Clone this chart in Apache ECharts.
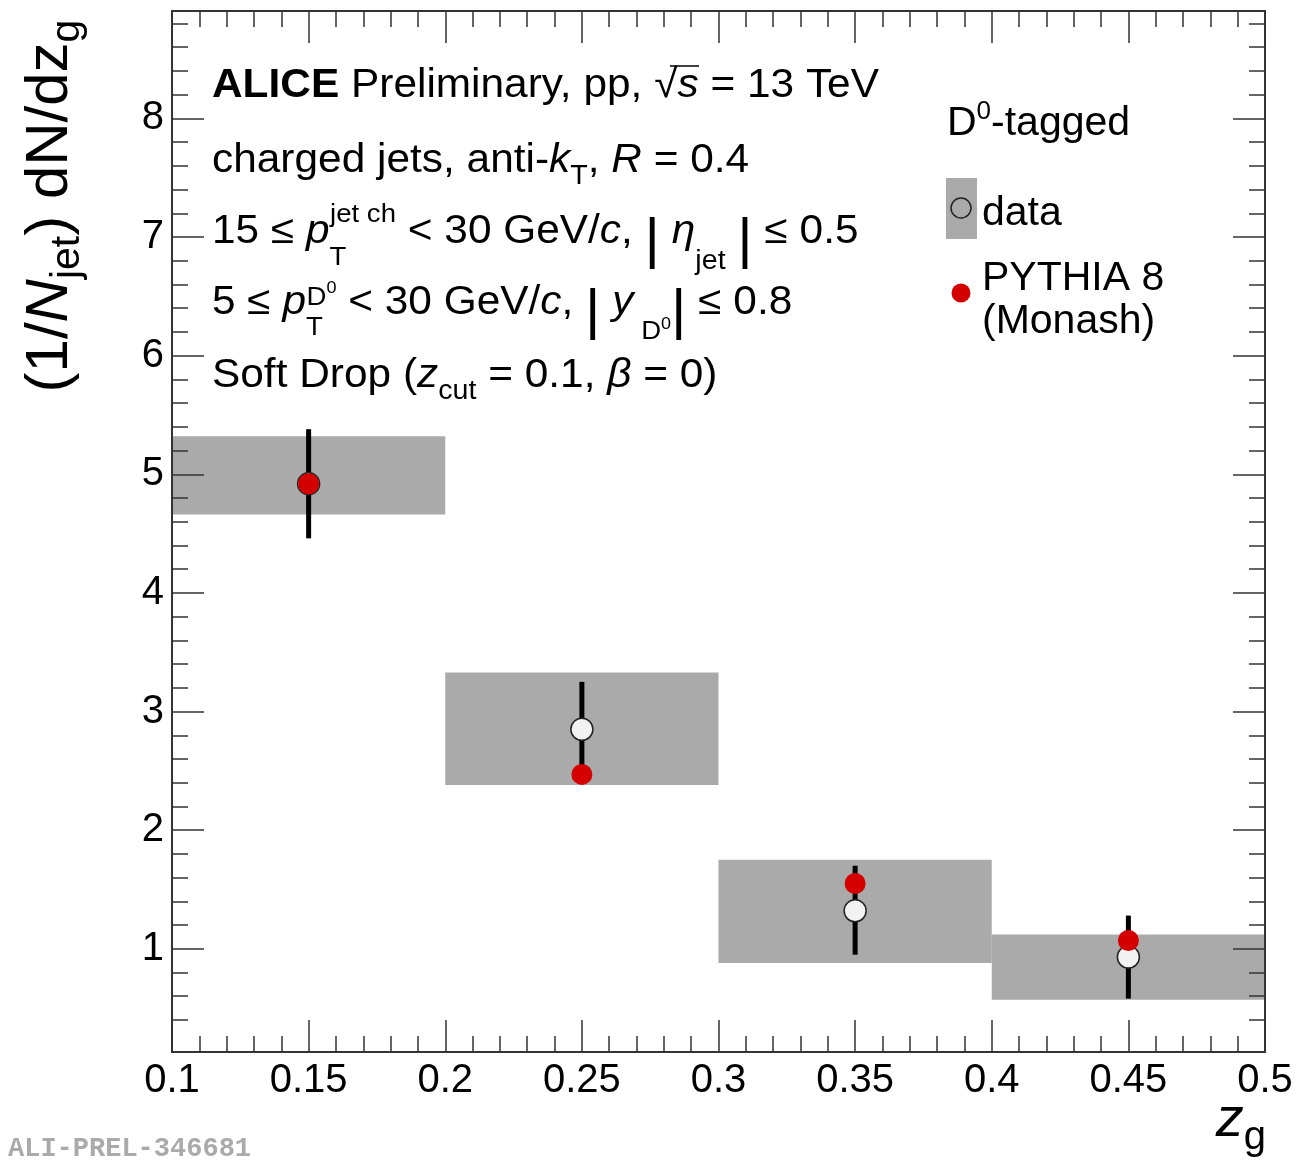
<!DOCTYPE html>
<html><head><meta charset="utf-8">
<script src="https://cdn.jsdelivr.net/npm/echarts@6.0.0/dist/echarts.min.js"></script>
<style>html,body{margin:0;padding:0;background:#fff}#c{width:1299px;height:1161px}</style>
</head><body><div id="c"></div>
<script>
// ---- data ----
const binLow    = [0.1, 0.2, 0.3, 0.4];
const binHigh   = [0.2, 0.3, 0.4, 0.5];
const binCenter = [0.15, 0.25, 0.35, 0.45];
const dataVal   = [4.92, 2.85, 1.32, 0.93];
const statLow   = [4.46, 2.45, 0.95, 0.58];
const statHigh  = [5.38, 3.25, 1.70, 1.28];
const sysLow    = [4.66, 2.38, 0.88, 0.57];
const sysHigh   = [5.32, 3.33, 1.75, 1.12];
const pythiaVal = [4.92, 2.47, 1.55, 1.07];
const yMajorTicks = [1, 2, 3, 4, 5, 6, 7, 8];
const yMinorTicks = [];
for (let k = 2; k <= 44; k++) { if (k % 5) yMinorTicks.push(+(k * 0.2).toFixed(1)); }

const FONT = "'Liberation Sans', Arial, Helvetica, sans-serif";
const AX = '#333';

function xAx(pos, showLabel) {
  return {
    type: 'value', position: pos, min: 0.1, max: 0.5, interval: 0.05, z: 10,
    axisLine: { show: true, onZero: false, lineStyle: { color: AX, width: 2 } },
    axisTick: { show: true, inside: true, length: 32, lineStyle: { color: AX, width: 1.5 } },
    minorTick: { show: true, splitNumber: 5, length: 16, lineStyle: { color: AX, width: 1.5 } },
    axisLabel: { show: showLabel, fontSize: 40, color: '#000', fontFamily: FONT, margin: 9 },
    splitLine: { show: false }, minorSplitLine: { show: false }
  };
}
function yAx(pos, major, showLabel) {
  return {
    type: 'value', position: pos, min: 0.13, max: 8.905, z: 10,
    axisLine: { show: true, onZero: false, lineStyle: { color: AX, width: 2 } },
    axisTick: { show: true, inside: true, length: major ? 32 : 16,
      customValues: major ? yMajorTicks : yMinorTicks, lineStyle: { color: AX, width: 1.5 } },
    axisLabel: { show: showLabel, customValues: yMajorTicks, fontSize: 40, color: '#000', fontFamily: FONT, margin: 8 },
    splitLine: { show: false }
  };
}

const L = 70;
function sub(fs, off) { return { fontSize: fs, fontFamily: FONT, fill: '#000', height: L - 2 * off, verticalAlign: 'bottom' }; }
function sup(fs, off) { return { fontSize: fs, fontFamily: FONT, fill: '#000', height: L - 2 * off, verticalAlign: 'top' }; }
const RICH = {
  b: { fontSize: 40, fontFamily: FONT, fontWeight: 'bold', fill: '#000' },
  i: { fontSize: 40, fontFamily: FONT, fontStyle: 'italic', fill: '#000' },
  sub: sub(27, 16),
  subT3: Object.assign(sub(26, 26), { width: 0.5 }),
  subT4: Object.assign(sub(26, 25), { width: 0.5 }),
  supJ: sup(26, 17),
  supD: sup(26, 5),
  supD0: sup(17, 15),
  subJ: sub(27, 30),
  subD: sub(26, 29),
  subD0: sub(17, 21),
  bar: { fontSize: 56, fontFamily: FONT, fill: '#000', height: L - 2 * 10, verticalAlign: 'bottom' }
};
const SX = 1.06;
function textLine(x, y, text) {
  return { type: 'text', x: x, y: y, z: 20, scaleX: SX,
    style: { text: text, fontSize: 40, fontFamily: FONT, fill: '#000', lineHeight: L,
      verticalAlign: 'middle', align: 'left', rich: RICH } };
}

const chart = echarts.init(document.getElementById('c'), null, { renderer: 'canvas' });
chart.setOption({
  animation: false,
  backgroundColor: '#fff',
  grid: { left: 172, right: 34, top: 11, bottom: 109, containLabel: false, outerBoundsMode: 'none' },
  xAxis: [xAx('bottom', true), xAx('top', false)],
  yAxis: [yAx('left', true, true), yAx('right', true, false), yAx('left', false, false), yAx('right', false, false)],
  series: [
    { type: 'custom', name: 'sys', xAxisIndex: 0, yAxisIndex: 0, z: 1, clip: true,
      data: binLow.map((v, i) => [binLow[i], binHigh[i], sysLow[i], sysHigh[i]]),
      encode: { x: [0, 1], y: [2, 3] },
      renderItem: function (params, api) {
        const p0 = api.coord([api.value(0), api.value(3)]);
        const p1 = api.coord([api.value(1), api.value(2)]);
        return { type: 'rect', shape: { x: p0[0], y: p0[1], width: p1[0] - p0[0], height: p1[1] - p0[1] },
          style: { fill: '#aaaaaa' } };
      } },
    { type: 'custom', name: 'stat', xAxisIndex: 0, yAxisIndex: 0, z: 2, clip: true,
      data: binCenter.map((c, i) => [c, statLow[i], statHigh[i]]),
      encode: { x: 0, y: [1, 2] },
      renderItem: function (params, api) {
        const a = api.coord([api.value(0), api.value(1)]);
        const b = api.coord([api.value(0), api.value(2)]);
        return { type: 'line', shape: { x1: a[0], y1: a[1], x2: b[0], y2: b[1] },
          style: { stroke: '#000', lineWidth: 5 } };
      } },
    { type: 'scatter', name: 'data', xAxisIndex: 0, yAxisIndex: 0, z: 3,
      data: binCenter.map((c, i) => [c, dataVal[i]]),
      symbol: 'circle', symbolSize: 22,
      itemStyle: { color: '#f2f2f2', borderColor: '#222', borderWidth: 1.5, opacity: 1 } },
    { type: 'scatter', name: 'PYTHIA 8', xAxisIndex: 0, yAxisIndex: 0, z: 4,
      data: binCenter.map((c, i) => [c, pythiaVal[i]]),
      symbol: 'circle', symbolSize: 21,
      itemStyle: { color: '#d40000', opacity: 1 } }
  ],
  graphic: [
    textLine(212, 86, '{b|ALICE} Preliminary, pp, √{i|s} = 13 TeV'),
    { type: 'line', z: 21, shape: { x1: 670, y1: 66, x2: 699, y2: 66 }, style: { stroke: '#000', lineWidth: 1.5 } },
    textLine(212, 161, 'charged jets, anti-{i|k}{sub|T}, {i|R} = 0.4'),
    textLine(212, 232, '15 ≤ {i|p}{subT3|T}{supJ|jet ch} < 30 GeV/{i|c}, {bar||} {i|η}{subJ|jet} {bar||} ≤ 0.5'),
    textLine(212, 303, '5 ≤ {i|p}{subT4|T}{supD|D}{supD0|0} < 30 GeV/{i|c}, {bar||} {i|y}{subD| D}{subD0|0}{bar||} ≤ 0.8'),
    textLine(212, 376, 'Soft Drop ({i|z}{sub|cut} = 0.1, {i|β} = 0)'),
    // legend
    { type: 'text', x: 947, y: 124, z: 20, style: { text: 'D{s|0}-tagged', fontSize: 41, fontFamily: FONT, fill: '#000',
        lineHeight: L, verticalAlign: 'middle', rich: { s: { fontSize: 26, fontFamily: FONT, fill: '#000', height: L - 24, verticalAlign: 'top' } } } },
    { type: 'rect', z: 20, shape: { x: 946, y: 178, width: 31, height: 61 }, style: { fill: '#aaaaaa' } },
    { type: 'circle', z: 21, shape: { cx: 961, cy: 208, r: 10 }, style: { fill: 'none', stroke: '#222', lineWidth: 1.5 } },
    { type: 'text', x: 982, y: 214, z: 20, style: { text: 'data', fontSize: 41, fontFamily: FONT, fill: '#000', verticalAlign: 'middle' } },
    { type: 'circle', z: 21, shape: { cx: 961, cy: 293, r: 9.5 }, style: { fill: '#d40000' } },
    { type: 'text', x: 982, y: 300, z: 20, style: { text: 'PYTHIA 8\n(Monash)', fontSize: 41, lineHeight: 43, fontFamily: FONT, fill: '#000', verticalAlign: 'middle' } },
    // axis titles
    { type: 'text', x: 50, y: 206, rotation: Math.PI / 2, z: 20,
      style: { text: '(1/{i|N}{s|jet}) dN/dz{s|g}', fontSize: 60, fontFamily: FONT, fill: '#000', lineHeight: 90,
        align: 'center', verticalAlign: 'middle',
        rich: { i: { fontSize: 60, fontFamily: FONT, fontStyle: 'italic', fill: '#000' },
                s: { fontSize: 41, fontFamily: FONT, fill: '#000', height: 54, verticalAlign: 'bottom' } } } },
    { type: 'text', x: 1266, y: 1120, z: 20,
      style: { text: '{i|z}{s|g}', fontSize: 56, fontFamily: FONT, fill: '#000', lineHeight: 90,
        align: 'right', verticalAlign: 'middle',
        rich: { i: { fontSize: 56, fontFamily: FONT, fontStyle: 'italic', fill: '#000' },
                s: { fontSize: 40, fontFamily: FONT, fill: '#000', height: 54, verticalAlign: 'bottom' } } } },
    // watermark
    { type: 'text', x: 8, y: 1149, z: 20, style: { text: 'ALI-PREL-346681', fontSize: 27, fontWeight: 'bold',
        fontFamily: "'Liberation Mono', 'Courier New', monospace", fill: '#aaaaaa', verticalAlign: 'middle' } }
  ]
});
</script></body></html>
